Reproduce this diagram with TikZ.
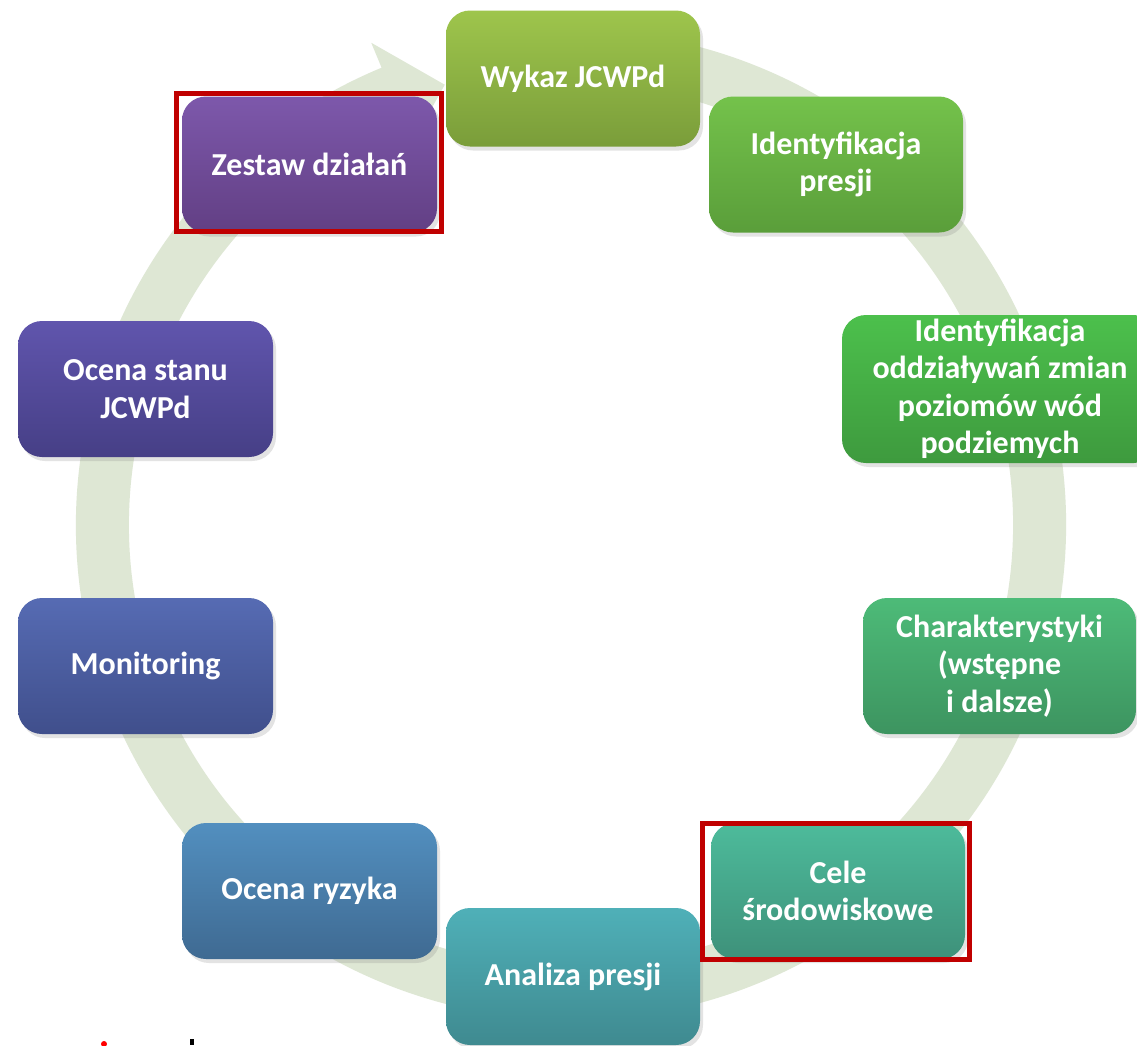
\documentclass[tikz,border=0pt]{standalone}
\usepackage{fontspec}
\setmainfont{Carlito}
\usetikzlibrary{shadows}
\definecolor{ringc}{RGB}{222,231,212}
\definecolor{frame}{RGB}{192,0,0}
\tikzset{
  box/.style={rounded corners=24pt, draw=none, text=white, align=center,
    font=\fontsize{32}{37.5}\selectfont\bfseries, inner sep=0pt,
    minimum width=254pt, minimum height=136pt,
    drop shadow={opacity=0.22, shadow xshift=3pt, shadow yshift=-4pt}},
  redframe/.style={draw=frame, line width=5pt}
}
\begin{document}
\begin{tikzpicture}[x=1pt,y=-1pt]
\clip (0,0) rectangle (1137,1045);
\fill[white] (0,0) rectangle (1137,1045);
% circular arrow
\begin{scope}[shift={(571,525)}, yscale=-1]
\fill[ringc] (76:495) arc[start angle=76, end angle=-247.5, radius=495]
  -- (-247.5:522) -- (-254:458) -- (-247.5:414) -- (-247.5:442)
  arc[start angle=-247.5, end angle=76, radius=442] -- cycle;
\end{scope}
% boxes
\node[box, top color={rgb,255:red,158;green,197;blue,76}, bottom color={rgb,255:red,122;green,157;blue,58}] (wyk) at (573,78.5) {Wykaz JCWPd};
\node[box, top color={rgb,255:red,116;green,194;blue,75}, bottom color={rgb,255:red,90;green,158;blue,58}] (idp) at (836,164.5) {Identyfikacja\\presji};
\node[box, minimum width=316pt, minimum height=148pt, top color={rgb,255:red,76;green,192;blue,76}, bottom color={rgb,255:red,62;green,154;blue,62}] (ido) at (1000,389) {Identyfikacja\\oddziaływań zmian\\poziomów wód\\podziemych};
\node[box, minimum width=273pt, top color={rgb,255:red,77;green,187;blue,120}, bottom color={rgb,255:red,61;green,148;blue,96}] (cha) at (999.5,666) {Charakterystyki\\(wstępne\\i dalsze)};
\node[box, top color={rgb,255:red,77;green,187;blue,155}, bottom color={rgb,255:red,62;green,145;blue,122}] (cel) at (838,891) {Cele\\środowiskowe};
\node[box, minimum height=137pt, top color={rgb,255:red,79;green,176;blue,184}, bottom color={rgb,255:red,63;green,138;blue,144}] (ana) at (573,976.5) {Analiza presji};
\node[box, minimum width=255pt, top color={rgb,255:red,82;green,143;blue,191}, bottom color={rgb,255:red,63;green,106;blue,146}] (ocr) at (309.5,891) {Ocena ryzyka};
\node[box, minimum width=255pt, top color={rgb,255:red,86;green,107;blue,179}, bottom color={rgb,255:red,64;green,79;blue,140}] (mon) at (145.5,666) {Monitoring};
\node[box, minimum width=255pt, top color={rgb,255:red,96;green,85;blue,173}, bottom color={rgb,255:red,70;green,63;blue,134}] (ocs) at (145.5,389) {Ocena stanu\\JCWPd};
\node[box, minimum width=255pt, top color={rgb,255:red,125;green,88;blue,171}, bottom color={rgb,255:red,98;green,63;blue,132}] (zes) at (309.5,164.5) {Zestaw działań};
% red frames
\draw[redframe] (176.5,93.5) rectangle (441,231);
\draw[redframe] (702,823.5) rectangle (969,959.5);
% clipped fragments at bottom
\fill[red] (104,1044) circle (3);
\fill[black] (190,1039) rectangle (193.5,1045);
\end{tikzpicture}
\end{document}
